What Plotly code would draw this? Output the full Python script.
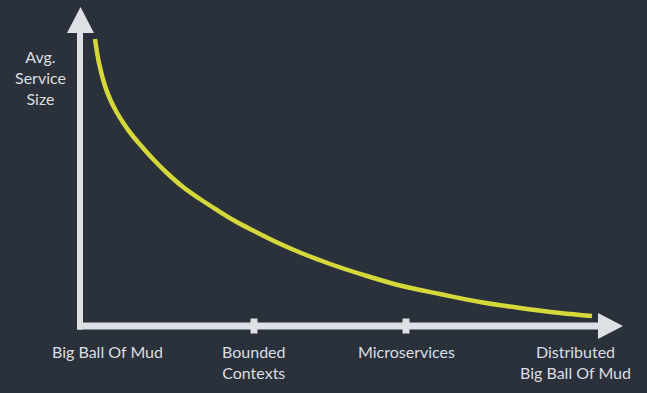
import plotly.graph_objects as go

# ---- data (x: architecture granularity, y: average service size), arbitrary units
curve_x = [0.15, 0.19, 0.25, 0.30, 0.36, 0.44, 0.52, 0.60, 0.73, 0.87, 1.03, 1.20, 1.37,
           1.55, 1.70, 1.95, 2.20, 2.53, 2.87, 3.20, 3.60, 4.00, 4.40, 4.80, 5.12]
curve_y = [2.87, 2.63, 2.40, 2.27, 2.15, 2.02, 1.91, 1.815, 1.67, 1.53, 1.39, 1.27, 1.16,
           1.05, 0.97, 0.845, 0.735, 0.61, 0.50, 0.405, 0.32, 0.24, 0.18, 0.13, 0.10]

category_labels = ["Big Ball Of Mud", "Bounded<br>Contexts", "Microservices", "Distributed<br>Big Ball Of Mud"]
category_x = [0.27, 1.74, 3.26, 4.95]
tick_positions = [1.74, 3.26]
y_axis_title = "Avg.<br>Service<br>Size"

BG = "#2a313b"
AXIS = "#dde1e5"
CURVE = "#d5d83a"
TEXT = "#dadee2"
FONT = "Lato"

fig = go.Figure()
fig.add_trace(go.Scatter(x=curve_x, y=curve_y, mode="lines",
                         line=dict(color=CURVE, width=4.5, shape="spline", smoothing=1.0),
                         hoverinfo="skip", showlegend=False))

shapes = []
# horizontal axis shaft + arrowhead
shapes.append(dict(type="rect", xref="x", yref="y", x0=-0.03, x1=5.19, y0=-0.035, y1=0.035,
                   fillcolor=AXIS, line=dict(width=0), layer="below"))
shapes.append(dict(type="path", xref="x", yref="y", path="M 5.18,0.13 L 5.43,0 L 5.18,-0.13 Z",
                   fillcolor=AXIS, line=dict(width=0), layer="below"))
# vertical axis shaft + arrowhead
shapes.append(dict(type="rect", xref="x", yref="y", x0=-0.03, x1=0.03, y0=-0.035, y1=2.95,
                   fillcolor=AXIS, line=dict(width=0), layer="below"))
shapes.append(dict(type="path", xref="x", yref="y", path="M -0.13,2.93 L 0.005,3.19 L 0.14,2.93 Z",
                   fillcolor=AXIS, line=dict(width=0), layer="below"))
# tick marks
for tp in tick_positions:
    shapes.append(dict(type="rect", xref="x", yref="y", x0=tp - 0.035, x1=tp + 0.035, y0=-0.075, y1=0.075,
                       fillcolor=AXIS, line=dict(width=0), layer="below"))

annotations = []
for lab, cx in zip(category_labels, category_x):
    annotations.append(dict(x=cx, y=-0.14, xref="x", yref="y", text=lab, showarrow=False,
                            xanchor="center", yanchor="top", align="center",
                            font=dict(family=FONT, size=16, color=TEXT)))
annotations.append(dict(x=-0.40, y=2.49, xref="x", yref="y", text=y_axis_title, showarrow=False,
                        xanchor="center", yanchor="middle", align="center",
                        font=dict(family=FONT, size=16, color=TEXT)))

fig.update_layout(
    width=647, height=393,
    margin=dict(l=0, r=0, t=0, b=0),
    paper_bgcolor=BG, plot_bgcolor=BG,
    xaxis=dict(range=[-0.80, 5.67], visible=False, fixedrange=True),
    yaxis=dict(range=[-0.67, 3.26], visible=False, fixedrange=True),
    shapes=shapes, annotations=annotations,
    showlegend=False,
)

fig.write_html("out.html", config={"displayModeBar": False},
               post_script="document.body.style.margin='0';document.body.style.overflow='hidden';")
